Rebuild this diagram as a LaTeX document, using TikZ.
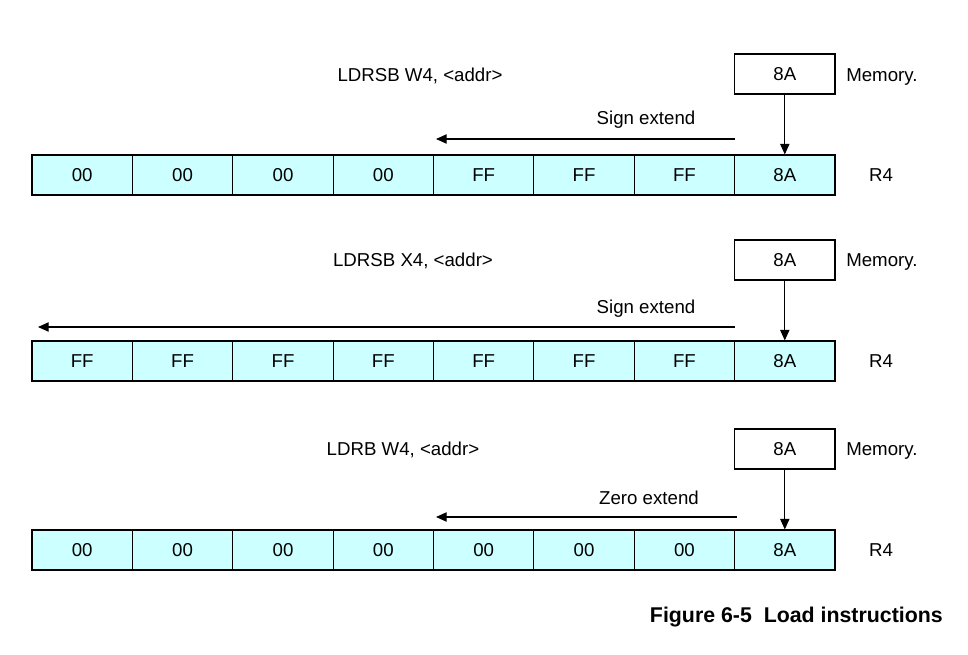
\documentclass[tikz,border=0pt]{standalone}
\usepackage{fontspec}
\setmainfont{Liberation Sans}
\usetikzlibrary{arrows.meta}

\tikzset{
  regcell/.style={draw, line width=0.8, fill={rgb, 255:red, 204; green, 255; blue, 255 }, inner sep=0, minimum width=75.28pt, minimum height=30pt},
  membox/.style={draw, line width=0.8, fill=white, inner sep=0, minimum width=75.28pt, minimum height=30pt},
  lbl/.style={inner sep=0, font=\fontsize{14}{16}\selectfont},
  flow/.style={line width=0.8, -{Triangle[length=8pt,width=7pt]}}
}

\begin{document}
\begin{tikzpicture}[x=0.75pt,y=0.75pt,yscale=-1,xscale=1]
\useasboundingbox (0,0) rectangle (968,654);
%Row one: LDRSB W4
\node [lbl] (t1) at (420,76) {LDRSB W4, <addr>};
\node [membox, lbl] (m1) at (784.8,74) {8A};
\node [lbl, anchor=west] (mt1) at (846,77) {Memory.};
\node [lbl] (s1) at (646,120) {Sign extend};
\node [regcell, lbl] (a1) at (82.2,175) {00};
\node [regcell, lbl] (a2) at (182.6,175) {00};
\node [regcell, lbl] (a3) at (283.0,175) {00};
\node [regcell, lbl] (a4) at (383.3,175) {00};
\node [regcell, lbl] (a5) at (483.7,175) {FF};
\node [regcell, lbl] (a6) at (584.1,175) {FF};
\node [regcell, lbl] (a7) at (684.4,175) {FF};
\node [regcell, lbl] (a8) at (784.8,175) {8A};
\node [lbl] (r1) at (881,175) {R4};
\coordinate (e1a) at (735,139);
\coordinate (e1b) at (436,139);
\draw [flow] (m1) -- (a8);
\draw [flow] (e1a) -- (e1b);

%Row two: LDRSB X4
\node [lbl] (t2) at (413,261) {LDRSB X4, <addr>};
\node [membox, lbl] (m2) at (784.8,260) {8A};
\node [lbl, anchor=west] (mt2) at (846,262) {Memory.};
\node [lbl] (s2) at (646,309) {Sign extend};
\node [regcell, lbl] (b1) at (82.2,361) {FF};
\node [regcell, lbl] (b2) at (182.6,361) {FF};
\node [regcell, lbl] (b3) at (283.0,361) {FF};
\node [regcell, lbl] (b4) at (383.3,361) {FF};
\node [regcell, lbl] (b5) at (483.7,361) {FF};
\node [regcell, lbl] (b6) at (584.1,361) {FF};
\node [regcell, lbl] (b7) at (684.4,361) {FF};
\node [regcell, lbl] (b8) at (784.8,361) {8A};
\node [lbl] (r2) at (881,361) {R4};
\coordinate (e2a) at (735,327);
\coordinate (e2b) at (38,327);
\draw [flow] (m2) -- (b8);
\draw [flow] (e2a) -- (e2b);

%Row three: LDRB W4
\node [lbl] (t3) at (403,450) {LDRB W4, <addr>};
\node [membox, lbl] (m3) at (784.8,449) {8A};
\node [lbl, anchor=west] (mt3) at (846,451) {Memory.};
\node [lbl] (s3) at (649,498) {Zero extend};
\node [regcell, lbl] (c1) at (82.2,550) {00};
\node [regcell, lbl] (c2) at (182.6,550) {00};
\node [regcell, lbl] (c3) at (283.0,550) {00};
\node [regcell, lbl] (c4) at (383.3,550) {00};
\node [regcell, lbl] (c5) at (483.7,550) {00};
\node [regcell, lbl] (c6) at (584.1,550) {00};
\node [regcell, lbl] (c7) at (684.4,550) {00};
\node [regcell, lbl] (c8) at (784.8,550) {8A};
\node [lbl] (r3) at (881,550) {R4};
\coordinate (e3a) at (737,517);
\coordinate (e3b) at (436,517);
\draw [flow] (m3) -- (c8);
\draw [flow] (e3a) -- (e3b);

%Caption
\node [lbl, anchor=east, font=\fontsize{16}{18}\selectfont\bfseries] (cap) at (943,617) {Figure 6-5\ \ Load instructions};
\end{tikzpicture}
\end{document}
